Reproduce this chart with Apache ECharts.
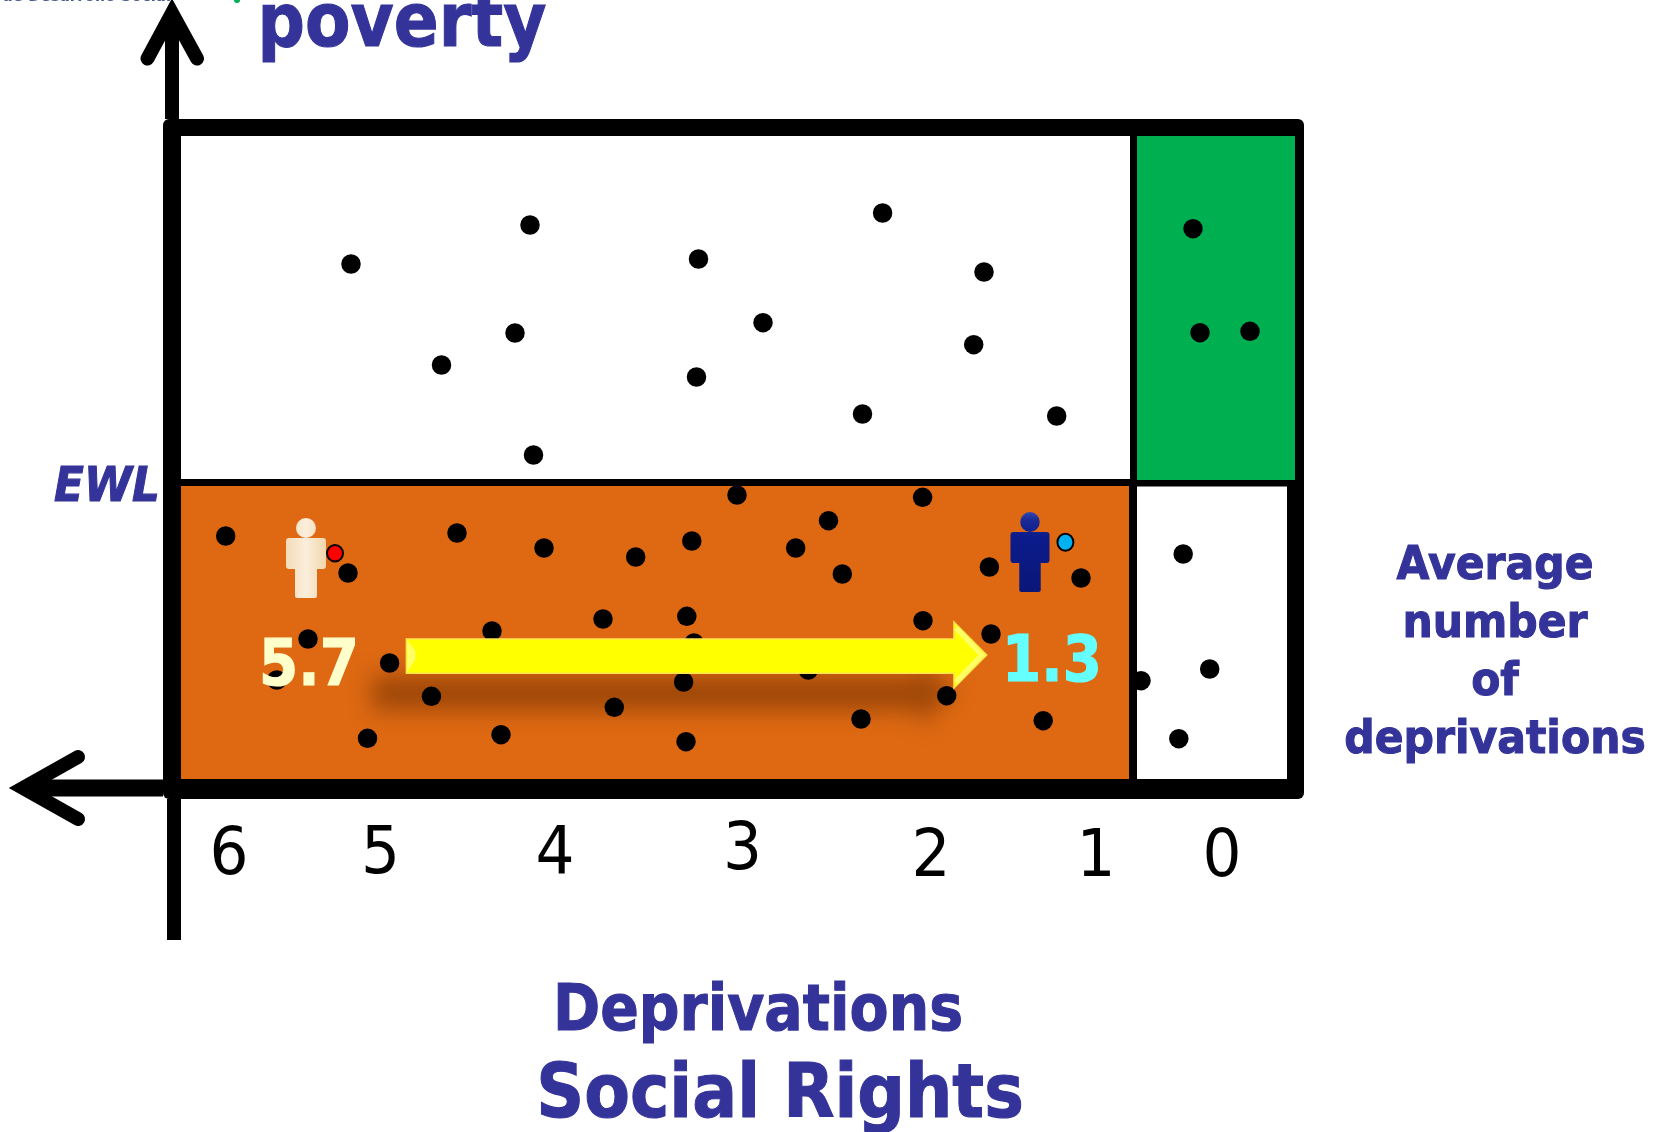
<!DOCTYPE html>
<html>
<head>
<meta charset="utf-8">
<style>html,body{margin:0;padding:0;background:#fff}#c{width:1662px;height:1132px}</style>
<script src="https://cdn.jsdelivr.net/npm/echarts@6/dist/echarts.min.js"></script>
</head>
<body>
<div id="c"></div>
<script>
// Scale units: x grows to the left from deprivation 0; y grows upward from the base of the frame.
const nonPoorBySocial = [[871,515],[692,554],[780.5,414],[707,446],[688.5,324],[523.5,520],[525.5,402],[339.4,566],[238,507],[459,456.3],[248.3,434.3],[359.5,365],[165.3,363]];
const notPoor = [[29,550.3],[22,446.3],[-28,447.7]];
const poorPeople = [[996.3,243],[874,206],[765,246],[678,231],[586.3,222],[530.2,238],[619,160],[535.2,162.7],[730,148],[528,136],[914,140],[945.2,99],[832.4,116],[790.6,82.7],[538.4,97],[607.7,71.7],[854.5,40.7],[721,44.3],[536,37.3],[485,284],[299.4,281.7],[393.5,258.3],[426.3,231],[379.7,205],[232.6,212],[141,201],[299,158.3],[231,145],[413.7,109],[275.3,83.3],[361,60],[178.8,58.3]];
const vulnerableByIncome = [[38.8,225],[81,98.3],[12.3,110],[43.2,40.3]];
const markerHigh = [887,225.7];
const markerLow = [156.6,236.7];
const personHigh = [916,221];
const personLow = [192,227];
const tickLabels = ['6','5','4','3','2','1','0'];
const tickX = [993,841.5,667,479.4,291,126,0];
const tickY = [-77.5,-76.5,-76.5,-72.5,-79.5,-79.5,-79.5];
const averageLabels = ['5.7','1.3'];
const averageX = [913,170];
const averageY = [110.5,115];
// zone bounds: x0, x1, y0, y1
const frameBox = [1059,-82,660,-20];
const zoneTopLeft = [1041,92,643,300];
const zoneTopRight = [85,-73,643,299];
const zoneBottomLeft = [1041,93,293,0];
const zoneBottomRight = [85,-65,292.5,0];
// arrow: tail x, head base x, tip x, shaft top, shaft bottom, head top, head bottom, mid
const reductionArrow = [815.6,268,235.3,140,105.7,157,91,124];

const BLUE = '#333399';
const FONT = '"DejaVu Sans"';
const personPath = 'path://M20 0a10 10 0 1 1 -0.01 0zM3 20h34a3 3 0 0 1 3 3v25a3 3 0 0 1 -3 3h-6v27a2 2 0 0 1 -2 2h-18a2 2 0 0 1 -2 -2v-27h-6a3 3 0 0 1 -3 -3v-25a3 3 0 0 1 3 -3z';

const chart = echarts.init(document.getElementById('c'), null, {renderer:'canvas'});

function rectFrom(api, b, fill, r){
  const a = api.coord([b[0],b[2]]), c = api.coord([b[1],b[3]]);
  return {type:'rect', shape:{x:a[0],y:a[1],width:c[0]-a[0],height:c[1]-a[1],r:r||0}, style:{fill:fill}};
}
function dots(name, data){
  return {name:name, type:'scatter', data:data, symbol:'circle', symbolSize:19.5, z:3, silent:true,
          itemStyle:{color:'#000',opacity:1}, animation:false};
}
function polyl(api, pts, w, round){
  return {type:'polyline', shape:{points:pts.map(p=>api.coord(p))},
    style:{stroke:'#000', fill:null, lineWidth:w, lineCap:round?'round':'butt', lineJoin:'miter', miterLimit:10}};
}
function arrowPoints(api){
  const [tail,base,tip,sT,sB,hT,hB,mid]=reductionArrow;
  return [[tail,sT],[base,sT],[base,hT],[tip,mid],[base,hB],[base,sB],[tail,sB]].map(q=>api.coord(q));
}
function boldText(t, x, y, sx, font, fill){
  return {type:'text',x:x,y:y,scaleX:sx,z:6,style:{text:t,font:font,fill:fill||BLUE,stroke:fill||BLUE,lineWidth:1.1,textAlign:'center',textVerticalAlign:'middle'}};
}

const option = {
  animation:false,
  backgroundColor:'#fff',
  grid:{left:0,right:0,top:0,bottom:0},
  xAxis:{type:'value',inverse:true,min:-440,max:1222,show:false},
  yAxis:{type:'value',min:-353,max:779,show:false},
  tooltip:{show:false},
  series:[
    {name:'Zones', type:'custom', z:1, silent:true, data:[[0,0]], clip:false,
     renderItem:(p,api)=>({type:'group',children:[
        rectFrom(api,frameBox,'#000',6),
        rectFrom(api,zoneTopLeft,'#fff'),
        rectFrom(api,zoneTopRight,'#00b050'),
        rectFrom(api,zoneBottomLeft,'#de6912'),
        rectFrom(api,zoneBottomRight,'#fff'),
        polyl(api,[[1050,755],[1050,660]],14),
        polyl(api,[[1074.5,720.5],[1050,766],[1025,720.5]],14,true),
        polyl(api,[[1192,-9],[1059,-9]],17),
        polyl(api,[[1144,22],[1199,-9],[1144,-40]],14,true),
        polyl(api,[[1048,-20],[1048,-161]],14)
     ]})},
    {name:'Arrow shadow', type:'custom', z:2, silent:true, data:[reductionArrow], clip:false,
     renderItem:(p,api)=>({type:'polygon',shape:{points:arrowPoints(api)},style:{fill:'#ffff00',
        shadowColor:'rgba(95,40,0,0.5)',shadowBlur:22,shadowOffsetX:-34,shadowOffsetY:37}})},
    dots('Vulnerable by social deprivation',nonPoorBySocial),
    dots('Not poor',notPoor),
    dots('In poverty',poorPeople),
    dots('Vulnerable by income',vulnerableByIncome),
    {name:'High marker', type:'scatter', z:3, silent:true, data:[markerHigh], symbolSize:[16,16.5],
     itemStyle:{color:'#ff0000',borderColor:'#000',borderWidth:2,opacity:1}},
    {name:'Low marker', type:'scatter', z:3, silent:true, data:[markerLow], symbolSize:[16,17],
     itemStyle:{color:'#00b0f0',borderColor:'#000',borderWidth:2,opacity:1}},
    {name:'Person high', type:'scatter', z:3, silent:true, data:[personHigh], symbol:personPath, symbolKeepAspect:false, symbolSize:[40,80],
     itemStyle:{opacity:1,color:new echarts.graphic.LinearGradient(0,0,1,0,[{offset:0,color:'#f3dcb8'},{offset:.5,color:'#fbeedb'},{offset:1,color:'#f0d6ae'}])}},
    {name:'Person low', type:'scatter', z:3, silent:true, data:[personLow], symbol:personPath, symbolKeepAspect:false, symbolSize:[39,80],
     itemStyle:{opacity:1,color:new echarts.graphic.LinearGradient(0,0,0,1,[{offset:0,color:'#3348b0'},{offset:.1,color:'#1a2a96'},{offset:.3,color:'#0c1c8c'},{offset:1,color:'#0a1678'}])}},
    {name:'Reduction arrow', type:'custom', z:4, silent:true, data:[reductionArrow], clip:false,
     renderItem:(p,api)=>{
       const [tail,base,tip,sT,sB,hT,hB,mid]=reductionArrow;
       const edge=q=>q.map(r=>api.coord(r));
       return {type:'group',children:[
         {type:'polygon',shape:{points:arrowPoints(api)},style:{fill:'#ffff00',stroke:'#ffe64d',lineWidth:1.5}},
         {type:'polyline',shape:{points:edge([[base-2,hT-6],[tip+5,mid],[base-2,hB+6]])},style:{stroke:'#ffff66',fill:null,lineWidth:5}},
         {type:'polygon',shape:{points:edge([[tail-1,sT-1],[tail-9,mid+4],[tail-9,mid-4],[tail-1,sB+1]])},style:{fill:'#ffff66'}}
       ]};
     }},
    {name:'Tick labels', type:'custom', z:5, silent:true, clip:false,
     data:tickLabels.map((t,i)=>[tickX[i],tickY[i],t]),
     renderItem:(p,api)=>{
       const c=api.coord([api.value(0),api.value(1)]);
       return {type:'text',x:c[0],y:c[1],scaleX:.93,
         style:{text:tickLabels[p.dataIndex],font:'400 66px '+FONT,fill:'#000',textAlign:'center',textVerticalAlign:'middle'}};
     }},
    {name:'Averages', type:'custom', z:5, silent:true, clip:false,
     data:averageLabels.map((t,i)=>[averageX[i],averageY[i],t]),
     renderItem:(p,api)=>{
       const c=api.coord([api.value(0),api.value(1)]);
       const col=p.dataIndex?'#66ffff':'#ffffcc';
       return {type:'text',x:c[0],y:c[1],scaleX:.88,
         style:{text:averageLabels[p.dataIndex],font:'700 64px '+FONT,fill:col,stroke:col,lineWidth:1.2,textAlign:'center',textVerticalAlign:'middle'}};
     }}
  ],
  graphic:{elements:[
    boldText('poverty',402,27,.89,'700 74.5px '+FONT),
    boldText('EWL',107,489,.91,'italic 700 48px '+FONT),
    boldText('Deprivations',758,1013,.89,'700 64px '+FONT),
    boldText('Social Rights',780,1098,.888,'700 75px '+FONT),
    boldText('Average',1495,567,.905,'700 47px '+FONT),
    boldText('number',1495,625,.905,'700 47px '+FONT),
    boldText('of',1495,683,.905,'700 47px '+FONT),
    boldText('deprivations',1495,741,.905,'700 47px '+FONT),
    {type:'text',x:2,y:-3,z:6,style:{text:'de Desarrollo Social',font:'600 15px '+FONT,fill:'#4a5a8a',textAlign:'left',textVerticalAlign:'middle'}},
    {type:'circle',shape:{cx:237,cy:0,r:3},z:6,style:{fill:'#00b050'}}
  ]}
};
chart.setOption(option);
</script>
</body>
</html>
